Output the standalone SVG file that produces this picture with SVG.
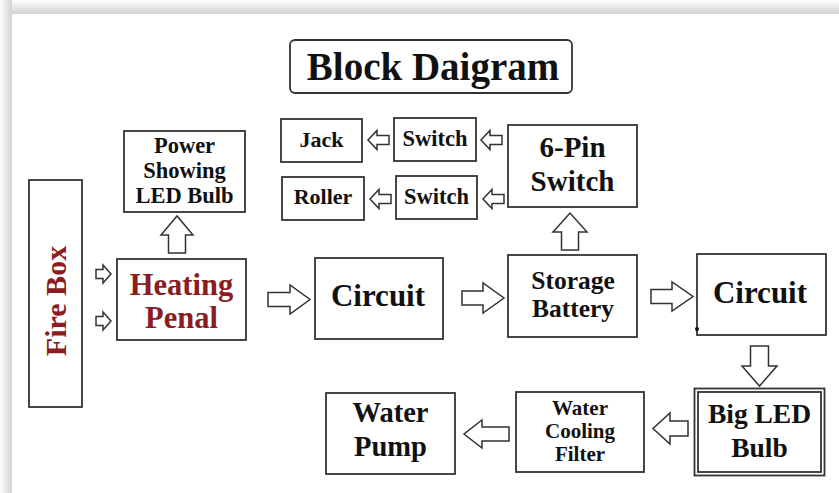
<svg xmlns="http://www.w3.org/2000/svg" width="839" height="493" viewBox="0 0 839 493">
<defs>
<linearGradient id="gTop" x1="0" y1="0" x2="0" y2="1">
<stop offset="0" stop-color="#ffffff"/><stop offset="1" stop-color="#d2d2d2"/>
</linearGradient>
<linearGradient id="gLeft" x1="0" y1="0" x2="1" y2="0">
<stop offset="0" stop-color="#ffffff"/><stop offset="1" stop-color="#d2d2d2"/>
</linearGradient>
</defs>
<style>
.box{fill:#fff;stroke:#333;stroke-width:1.8}
.arr{fill:#fff;stroke:#333;stroke-width:1.5;stroke-linejoin:miter}
text{font-family:"Liberation Serif","Times New Roman",serif;font-weight:bold;fill:#111;text-anchor:middle}
.red{fill:#8a1c22}
</style>
<rect x="0" y="0" width="839" height="493" fill="#fff"/>
<rect x="0" y="0" width="839" height="14" fill="url(#gTop)"/>
<rect x="0" y="0" width="12" height="493" fill="url(#gLeft)"/>
<rect x="12" y="14" width="827" height="479" fill="#fff"/>

<g id="title">
<rect x="290" y="40" width="282" height="53" rx="5" class="box"/>
<text x="433" y="80" font-size="39">Block Daigram</text>
</g>
<g id="fire-box">
<rect x="29" y="180" width="53" height="227" class="box"/>
<text class="red" font-size="30" transform="translate(66,301) rotate(-90)">Fire Box</text>
</g>
<g id="power-led">
<rect x="124" y="131" width="121" height="81" class="box"/>
<text x="184.5" y="153" font-size="22.5">Power</text>
<text x="184.5" y="178" font-size="22.5">Showing</text>
<text x="184.5" y="203" font-size="22.5">LED Bulb</text>
</g>
<g id="heating-penal">
<rect x="117" y="259" width="129" height="81" class="box"/>
<text class="red" x="181.5" y="295" font-size="30.5">Heating</text>
<text class="red" x="181.5" y="328" font-size="30.5">Penal</text>
</g>
<g id="jack">
<rect x="281" y="119" width="81" height="43" class="box"/>
<text x="321.5" y="147" font-size="22">Jack</text>
</g>
<g id="roller">
<rect x="282" y="177" width="82" height="43" class="box"/>
<text x="323" y="204" font-size="22">Roller</text>
</g>
<g id="switch1">
<rect x="394" y="118" width="82" height="43" class="box"/>
<text x="435" y="146" font-size="22.5">Switch</text>
</g>
<g id="switch2">
<rect x="396" y="176" width="81" height="43" class="box"/>
<text x="436.5" y="204" font-size="22.5">Switch</text>
</g>
<g id="six-pin-switch">
<rect x="508" y="125" width="129" height="82" class="box"/>
<text x="572.5" y="157" font-size="29">6-Pin</text>
<text x="572.5" y="191" font-size="29">Switch</text>
</g>
<g id="circuit1">
<rect x="315" y="258" width="128" height="81" class="box"/>
<text x="378" y="306" font-size="31">Circuit</text>
</g>
<g id="storage-battery">
<rect x="508" y="255" width="129" height="82" class="box"/>
<text x="573" y="289" font-size="25.5">Storage</text>
<text x="573" y="317" font-size="25.5">Battery</text>
</g>
<g id="circuit2">
<rect x="697" y="254" width="129" height="81" class="box"/>
<text x="760" y="303" font-size="31">Circuit</text>
<circle cx="697" cy="329" r="2" fill="#111"/>
</g>
<g id="big-led-bulb">
<rect x="694.5" y="388.5" width="130" height="87" class="box"/>
<rect x="698" y="392" width="123" height="80" class="box"/>
<text x="759.5" y="423" font-size="27.5">Big LED</text>
<text x="759.5" y="457" font-size="27.5">Bulb</text>
</g>
<g id="water-cooling-filter">
<rect x="516" y="392" width="128" height="80" class="box"/>
<text x="580" y="414.5" font-size="21">Water</text>
<text x="580" y="437.5" font-size="21">Cooling</text>
<text x="580" y="460.5" font-size="21">Filter</text>
</g>
<g id="water-pump">
<rect x="326" y="393" width="129" height="81" class="box"/>
<text x="390.5" y="422" font-size="28.5">Water</text>
<text x="390.5" y="456" font-size="28.5">Pump</text>
</g>

<g id="connectors">
<polygon class="arr" points="96,269.5 103,269.5 103,265 111,274 103,283 103,278.5 96,278.5"/>
<polygon class="arr" points="96,316.5 103,316.5 103,312 111,321 103,330 103,325.5 96,325.5"/>
<polygon class="arr" points="168.5,253 168.5,235 161,235 177,216 193,235 185.5,235 185.5,253"/>
<polygon class="arr" points="268,292.5 290,292.5 290,285 310,299.5 290,314 290,306.5 268,306.5"/>
<polygon class="arr" points="462,291 483,291 483,283 504,298 483,313 483,305 462,305"/>
<polygon class="arr" points="561.5,250 561.5,232 553,232 570,213 587,232 578.5,232 578.5,250"/>
<polygon class="arr" points="651,289.5 672,289.5 672,282 693,296.5 672,311 672,303.5 651,303.5"/>
<polygon class="arr" points="502,135.5 490,135.5 490,130.5 481,140 490,149.5 490,144.5 502,144.5"/>
<polygon class="arr" points="504,194.5 492,194.5 492,189.5 483,199 492,208.5 492,203.5 504,203.5"/>
<polygon class="arr" points="389,135.5 377,135.5 377,130.5 368,140 377,149.5 377,144.5 389,144.5"/>
<polygon class="arr" points="391,194.5 379,194.5 379,189.5 370,199 379,208.5 379,203.5 391,203.5"/>
<polygon class="arr" points="750.5,346 768.5,346 768.5,366 777,366 759.5,386 742,366 750.5,366"/>
<polygon class="arr" points="688,421 670,421 670,413 653,428.5 670,444 670,436 688,436"/>
<polygon class="arr" points="509,427 482,427 482,420 464,434 482,448 482,441 509,441"/>
</g>
</svg>
